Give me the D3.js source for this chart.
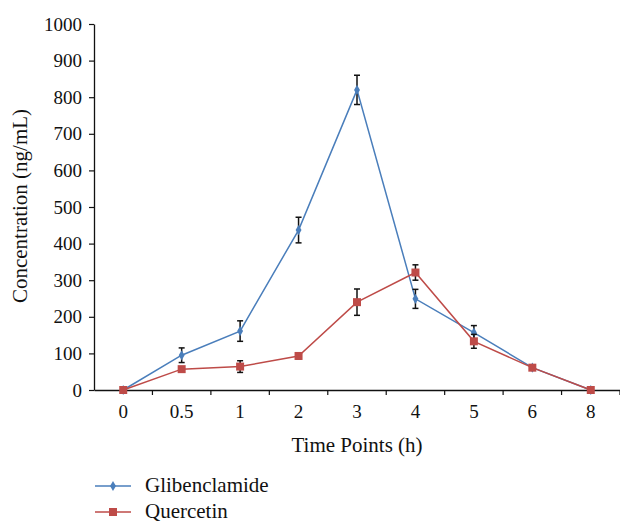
<!DOCTYPE html>
<html lang="en">
<head>
<meta charset="UTF-8">
<title>Concentration vs time</title>
<script src="https://d3js.org/d3.v7.min.js"></script>
<style>
    body { margin: 0; background: white; }
    text { font-family: "Liberation Serif", "DejaVu Serif", serif; fill: #111; }
</style>
</head>
<body>
<svg id="main" width="620" height="523"></svg>
<script>
    // data
    let timePoints = ["0", "0.5", "1", "2", "3", "4", "5", "6", "8"];
    let glibenclamide = [0, 95, 161, 437, 820, 249, 157, 61, 0];
    let glibErr = [0, 20, 28, 35, 40, 26, 19, 0, 0];
    let quercetin = [0, 57, 64, 93, 240, 321, 133, 61, 0];
    let quercErr = [0, 0, 16, 8, 36, 21, 19, 0, 0];
    let yTicks = [0, 100, 200, 300, 400, 500, 600, 700, 800, 900, 1000];

    let svg = d3.select('svg#main');
    let x = d3.scaleBand().domain(timePoints).range([94, 620]);
    let y = d3.scaleLinear().domain([0, 1000]).range([390, 24]);

    //axes
    let xAxis = svg.append('g')
        .attr('transform', 'translate(0,390)')
        .call(d3.axisBottom(x).tickSize(0).tickPadding(15));
    xAxis.selectAll('text').style('font-size', '19px');
    xAxis.select('.domain').attr('stroke', '#111').attr('stroke-width', 1.3);
    // ticks between categories
    let bounds = timePoints.map(function (d) { return x(d); }).concat([x.range()[1]]);
    xAxis.selectAll('line.sep').data(bounds.slice(1)).enter().append('line')
        .attr('class', 'sep')
        .attr('x1', function (d) { return d; }).attr('x2', function (d) { return d; })
        .attr('y1', 0).attr('y2', 5)
        .attr('stroke', '#111').attr('stroke-width', 1.2);

    let yAxis = svg.append('g')
        .attr('transform', 'translate(94,0)')
        .call(d3.axisLeft(y).tickValues(yTicks).tickFormat(d3.format('d'))
            .tickSize(5).tickPadding(7).tickSizeOuter(0));
    yAxis.selectAll('text').style('font-size', '19px');
    yAxis.select('.domain').attr('stroke', '#111').attr('stroke-width', 1.3);
    yAxis.selectAll('.tick line').attr('stroke', '#111').attr('stroke-width', 1.2);

    svg.append('text').attr('x', 357).attr('y', 452).attr('text-anchor', 'middle')
        .style('font-size', '21px').text('Time Points (h)');
    svg.append('text').attr('transform', 'translate(27,206) rotate(-90)')
        .attr('text-anchor', 'middle').style('font-size', '21px').text('Concentration (ng/mL)');

    let cx = function (i) { return x(timePoints[i]) + x.bandwidth() / 2; };
    let line = d3.line().x(function (d, i) { return cx(i); }).y(function (d) { return y(d); });

    let series = [
        {name: 'Glibenclamide', vals: glibenclamide, err: glibErr, color: '#4a7ebb', shape: d3.symbolDiamond, size: 30},
        {name: 'Quercetin', vals: quercetin, err: quercErr, color: '#be4b48', shape: d3.symbolSquare, size: 64}
    ];

    series.forEach(function (s) {
        let g = svg.append('g');
        g.append('path').attr('d', line(s.vals))
            .style('fill', 'none').style('stroke', s.color).style('stroke-width', '1.5px');
        // error bars
        s.vals.forEach(function (v, i) {
            if (!s.err[i]) return;
            let top = y(v + s.err[i]), bot = y(v - s.err[i]), xc = cx(i);
            g.append('line').attr('x1', xc).attr('x2', xc).attr('y1', top).attr('y2', bot)
                .attr('stroke', '#111').attr('stroke-width', 1.5);
            [top, bot].forEach(function (yy) {
                g.append('line').attr('x1', xc - 3).attr('x2', xc + 3).attr('y1', yy).attr('y2', yy)
                    .attr('stroke', '#111').attr('stroke-width', 1.5);
            });
        });
        g.selectAll('path.pt').data(s.vals).enter().append('path')
            .attr('class', 'pt')
            .attr('d', d3.symbol().type(s.shape).size(s.size))
            .attr('transform', function (d, i) { return 'translate(' + cx(i) + ',' + y(d) + ')'; })
            .style('fill', s.color);
    });

    // legend
    let leg = svg.append('g');
    series.forEach(function (s, i) {
        let ly = 486 + i * 26;
        leg.append('line').attr('x1', 95).attr('x2', 131).attr('y1', ly).attr('y2', ly)
            .attr('stroke', s.color).attr('stroke-width', 1.5);
        leg.append('path').attr('d', d3.symbol().type(s.shape).size(s.size))
            .attr('transform', 'translate(113,' + ly + ')').style('fill', s.color);
        leg.append('text').attr('x', 145).attr('y', ly + 6).style('font-size', '21px').text(s.name);
    });
</script>
</body>
</html>
